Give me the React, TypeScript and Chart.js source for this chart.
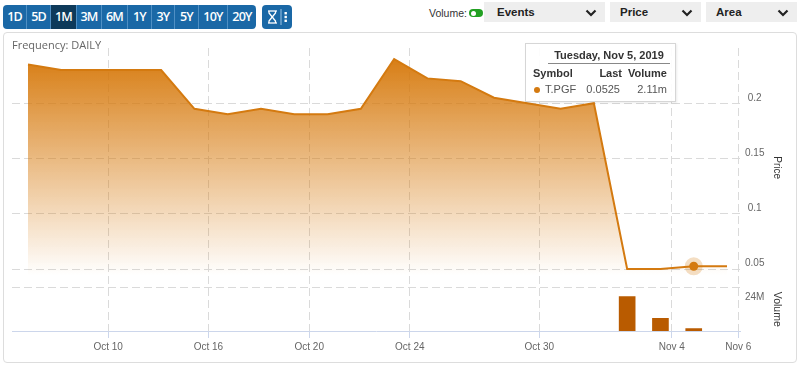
import React, { useEffect, useRef } from 'react';
import { Chart, registerables } from 'chart.js';

Chart.register(...registerables);

// ---------- data ----------
const PRICE: number[] = [
  0.235, 0.23, 0.23, 0.23, 0.23, 0.195, 0.19, 0.195, 0.19, 0.19, 0.195,
  0.24, 0.2225, 0.22, 0.205, 0.2, 0.195, 0.2, 0.05, 0.05, 0.0525, 0.0525,
];
const VOLUME: (number | null)[] = [
  null, null, null, null, null, null, null, null, null, null, null,
  null, null, null, null, null, null, null, 29.6e6, 11.0e6, 2.11e6, null,
];
const X_TICK_POS = [2.41, 5.42, 8.45, 11.47, 15.36, 19.34, 21.34];
const X_TICK_LABELS = ['Oct 10', 'Oct 16', 'Oct 20', 'Oct 24', 'Oct 30', 'Nov 4', 'Nov 6'];
const PRICE_TICKS = [0.05, 0.1, 0.15, 0.2];
const PRICE_TICK_LABELS = ['0.05', '0.1', '0.15', '0.2'];
const VOLUME_TICKS = [24e6];
const VOLUME_TICK_LABELS = ['24M'];
const RANGE_BUTTONS = ['1D', '5D', '1M', '3M', '6M', '1Y', '3Y', '5Y', '10Y', '20Y'];
const SELECTED_RANGE = '1M';
const HIGHLIGHT_INDEX = 20;
const TOOLTIP_DATE = 'Tuesday, Nov 5, 2019';
const SYMBOL = 'T.PGF';
const TOOLTIP_LAST = '0.0525';
const TOOLTIP_VOLUME = '2.11m';
const DROPDOWNS = ['Events', 'Price', 'Area'];

// ---------- styling ----------
const LINE = '#d47a10';
const BAR = '#b95b00';
const GRID = '#dadada';
const AXIS_FONT = "'Liberation Sans', Arial, sans-serif";
const X_MIN = -0.48;
const X_MAX = 21.39;
const P_MIN = 0.0333;
const P_MAX = 0.25;
const V_MAX = 37.5e6;

function PriceChart() {
  const ref = useRef<HTMLCanvasElement>(null);
  useEffect(() => {
    const canvas = ref.current;
    if (!canvas) return;
    const pts = PRICE.map((y, i) => ({ x: i, y }));
    const chart = new Chart(canvas, {
      type: 'line',
      data: {
        datasets: [
          {
            type: 'line',
            data: pts,
            xAxisID: 'x',
            yAxisID: 'yPrice',
            showLine: false,
            pointRadius: (c: any) => (c.dataIndex === HIGHLIGHT_INDEX ? 4.5 : 0),
            pointBackgroundColor: LINE,
            pointBorderWidth: 0,
            pointHoverRadius: 0,
          } as any,
          {
            type: 'line',
            data: pts,
            xAxisID: 'x',
            yAxisID: 'yPrice',
            showLine: false,
            pointRadius: (c: any) => (c.dataIndex === HIGHLIGHT_INDEX ? 9 : 0),
            pointBackgroundColor: 'rgba(212,122,16,0.25)',
            pointBorderWidth: 0,
            pointHoverRadius: 0,
          } as any,
          {
            type: 'line',
            data: pts,
            xAxisID: 'x',
            yAxisID: 'yPrice',
            borderColor: LINE,
            borderWidth: 2,
            pointRadius: 0,
            tension: 0,
            fill: 'start',
            backgroundColor: (c: any) => {
              const ch = c.chart;
              const s = ch.scales && ch.scales.yPrice;
              if (!ch.chartArea || !s) return 'rgba(214,120,10,0.5)';
              const g = ch.ctx.createLinearGradient(0, s.top, 0, s.bottom - 12);
              g.addColorStop(0, 'rgba(214,120,10,1)');
              g.addColorStop(1, 'rgba(214,120,10,0)');
              return g;
            },
          } as any,
          {
            type: 'bar',
            data: VOLUME.map((y, i) => ({ x: i, y })),
            xAxisID: 'x',
            yAxisID: 'yVol',
            backgroundColor: BAR,
            barThickness: 16,
          } as any,
        ],
      },
      options: {
        animation: false,
        responsive: true,
        maintainAspectRatio: false,
        events: [],
        layout: { padding: { left: 8, top: 15, right: 9, bottom: 0 } },
        plugins: { legend: { display: false }, tooltip: { enabled: false } },
        scales: {
          x: {
            type: 'linear',
            position: 'bottom',
            offset: false,
            min: X_MIN,
            max: X_MAX,
            afterBuildTicks: (s: any) => {
              s.ticks = X_TICK_POS.map((v) => ({ value: v }));
            },
            afterFit: (s: any) => {
              s.height = 31;
            },
            ticks: {
              autoSkip: false,
              maxRotation: 0,
              padding: 3,
              color: '#666',
              font: { family: AXIS_FONT, size: 10 },
              callback: (_v: any, i: number) => X_TICK_LABELS[i],
            },
            grid: {
              offset: false,
              color: GRID,
              tickColor: '#ccd6eb',
              tickLength: 7,
              tickBorderDash: [],
              tickWidth: 1,
            },
            border: { display: true, color: '#ccd6eb', width: 1, dash: [8, 4] },
          },
          yPrice: {
            type: 'linear',
            position: 'right',
            stack: 'panes',
            stackWeight: 239.5,
            min: P_MIN,
            max: P_MAX,
            afterBuildTicks: (s: any) => {
              s.ticks = PRICE_TICKS.map((v) => ({ value: v }));
            },
            afterFit: (s: any) => {
              s.width = 47;
            },
            ticks: {
              padding: 5,
              crossAlign: 'center',
              labelOffset: -5.5,
              color: '#666',
              font: { family: AXIS_FONT, size: 10 },
              callback: (v: any) => {
                const i = PRICE_TICKS.indexOf(v);
                return i >= 0 ? PRICE_TICK_LABELS[i] : '';
              },
            },
            grid: { color: GRID, drawTicks: false },
            border: { display: false, dash: [8, 4] },
            title: {
              display: true,
              text: 'Price',
              color: '#333',
              padding: 4,
              font: { family: AXIS_FONT, size: 10 },
            },
          },
          yVol: {
            type: 'linear',
            position: 'right',
            stack: 'panes',
            stackWeight: 43.5,
            min: 0,
            max: V_MAX,
            afterBuildTicks: (s: any) => {
              s.ticks = [...VOLUME_TICKS, V_MAX].map((v) => ({ value: v }));
            },
            afterFit: (s: any) => {
              s.width = 47;
            },
            ticks: {
              padding: 5,
              crossAlign: 'center',
              labelOffset: -5.5,
              color: '#666',
              font: { family: AXIS_FONT, size: 10 },
              callback: (v: any) => {
                const i = VOLUME_TICKS.indexOf(v);
                return i >= 0 ? VOLUME_TICK_LABELS[i] : '';
              },
            },
            grid: {
              drawTicks: false,
              color: (c: any) => (c.tick && c.tick.value === V_MAX ? GRID : 'rgba(0,0,0,0)'),
            },
            border: { display: false, dash: [8, 4] },
            title: {
              display: true,
              text: 'Volume',
              color: '#333',
              padding: 4,
              font: { family: AXIS_FONT, size: 10.5 },
            },
          },
        },
      } as any,
    });
    return () => chart.destroy();
  }, []);
  return (
    <div style={{ position: 'absolute', left: 0, top: 0, width: 792, height: 329 }}>
      <canvas ref={ref} />
    </div>
  );
}

function Chevron() {
  return (
    <svg width="12" height="8" viewBox="0 0 12 8" style={{ display: 'block' }}>
      <polyline points="1.5,1.5 6,6 10.5,1.5" fill="none" stroke="#222" strokeWidth="2.2" />
    </svg>
  );
}

const BTN_WIDTHS = [23, 24, 26, 25, 26, 24, 23, 24, 29, 29];

export default function App() {
  const dropdownBoxes = [
    { left: 484, width: 121, pad: 13 },
    { left: 610, width: 91, pad: 10 },
    { left: 706, width: 91, pad: 10 },
  ];
  return (
    <div
      style={{
        position: 'absolute',
        left: 0,
        top: 0,
        width: 800,
        height: 367,
        background: '#fff',
        fontFamily: AXIS_FONT,
        overflow: 'hidden',
      }}
    >
      {/* range buttons */}
      <div
        style={{
          position: 'absolute',
          left: 3,
          top: 5,
          height: 24,
          display: 'flex',
          borderRadius: 4,
          overflow: 'hidden',
        }}
      >
        {RANGE_BUTTONS.map((b, i) => (
          <div
            key={b}
            style={{
              width: BTN_WIDTHS[i],
              height: 24,
              boxSizing: 'border-box',
              background: b === SELECTED_RANGE ? '#0e3a5a' : '#1a68a6',
              borderLeft: i === 0 ? 'none' : '1px solid #4f8fc4',
              color: '#fff',
              fontFamily: "'Open Sans', Arial, sans-serif",
              fontSize: 12.5,
              fontWeight: 600,
              letterSpacing: -0.8,
              lineHeight: '24px',
              textAlign: 'center',
            }}
          >
            {b}
          </div>
        ))}
      </div>
      <div
        style={{
          position: 'absolute',
          left: 262,
          top: 5,
          width: 30,
          height: 24,
          background: '#1a68a6',
          borderRadius: 4,
        }}
      >
        <svg width="30" height="24" viewBox="0 0 30 24" style={{ display: 'block' }}>
          <g fill="none" stroke="#fff" strokeWidth="1.3">
            <line x1="6" y1="6" x2="15" y2="6" />
            <line x1="6" y1="18" x2="15" y2="18" />
            <polyline points="7,6 7,8 13.5,16 13.5,18" />
            <polyline points="13.5,6 13.5,8 7,16 7,18" />
          </g>
          <line x1="19" y1="4" x2="19" y2="20" stroke="#9cc3e4" strokeWidth="1" />
          <g fill="#fff">
            <rect x="22.5" y="7" width="2.4" height="2.4" />
            <rect x="22.5" y="10.8" width="2.4" height="2.4" />
            <rect x="22.5" y="14.6" width="2.4" height="2.4" />
          </g>
        </svg>
      </div>

      {/* volume toggle */}
      <div style={{ position: 'absolute', left: 429, top: 6, fontSize: 10.5, color: '#333', lineHeight: '14px' }}>
        Volume:
      </div>
      <div
        style={{
          position: 'absolute',
          left: 469,
          top: 9,
          width: 14,
          height: 8,
          borderRadius: 4,
          background: '#22a022',
        }}
      >
        <div
          style={{
            position: 'absolute',
            left: 1.5,
            top: 1.5,
            width: 5,
            height: 5,
            borderRadius: 3,
            background: '#fff',
          }}
        />
      </div>

      {/* dropdowns */}
      {DROPDOWNS.map((d, i) => (
        <div
          key={d}
          style={{
            position: 'absolute',
            left: dropdownBoxes[i].left,
            top: 2,
            width: dropdownBoxes[i].width,
            height: 20,
            background: '#eeeeee',
            boxSizing: 'border-box',
          }}
        >
          <div
            style={{
              position: 'absolute',
              left: dropdownBoxes[i].pad,
              top: 0,
              lineHeight: '20px',
              fontSize: 11.5,
              fontWeight: 'bold',
              color: '#222',
            }}
          >
            {d}
          </div>
          <div style={{ position: 'absolute', right: 8, top: 7 }}>
            <Chevron />
          </div>
        </div>
      ))}

      {/* chart box */}
      <div
        style={{
          position: 'absolute',
          left: 3,
          top: 32,
          width: 794,
          height: 331,
          boxSizing: 'border-box',
          border: '1px solid #dddddd',
          borderRadius: 4,
        }}
      >
        <PriceChart />
        <div
          style={{
            position: 'absolute',
            left: 8,
            top: 4,
            fontFamily: "'Open Sans', Arial, sans-serif",
            fontSize: 11,
            color: '#666',
          }}
        >
          Frequency: DAILY
        </div>
      </div>

      {/* tooltip */}
      <div
        style={{
          position: 'absolute',
          left: 525,
          top: 43,
          width: 151,
          height: 59,
          boxSizing: 'border-box',
          background: 'rgba(255,255,255,0.92)',
          border: '1px solid #d6d6d6',
          boxShadow: '1px 1px 2px rgba(0,0,0,0.08)',
          fontSize: 11,
          color: '#333',
        }}
      >
        <div
          style={{
            position: 'absolute',
            left: 22,
            top: 5,
            width: 122,
            textAlign: 'center',
            fontWeight: 'bold',
            lineHeight: '13px',
            paddingBottom: 1,
            borderBottom: '1px solid #888',
          }}
        >
          {TOOLTIP_DATE}
        </div>
        <div style={{ position: 'absolute', left: 7, top: 23, fontWeight: 'bold', lineHeight: '13px' }}>Symbol</div>
        <div style={{ position: 'absolute', right: 53, top: 23, fontWeight: 'bold', lineHeight: '13px' }}>Last</div>
        <div style={{ position: 'absolute', right: 8, top: 23, fontWeight: 'bold', lineHeight: '13px' }}>Volume</div>
        <div
          style={{
            position: 'absolute',
            left: 8,
            top: 43,
            width: 6,
            height: 6,
            borderRadius: 3,
            background: LINE,
          }}
        />
        <div style={{ position: 'absolute', left: 19, top: 39, lineHeight: '13px', color: '#555' }}>{SYMBOL}</div>
        <div style={{ position: 'absolute', right: 55, top: 39, lineHeight: '13px', color: '#555' }}>{TOOLTIP_LAST}</div>
        <div style={{ position: 'absolute', right: 8, top: 39, lineHeight: '13px', color: '#555' }}>{TOOLTIP_VOLUME}</div>
      </div>
    </div>
  );
}
